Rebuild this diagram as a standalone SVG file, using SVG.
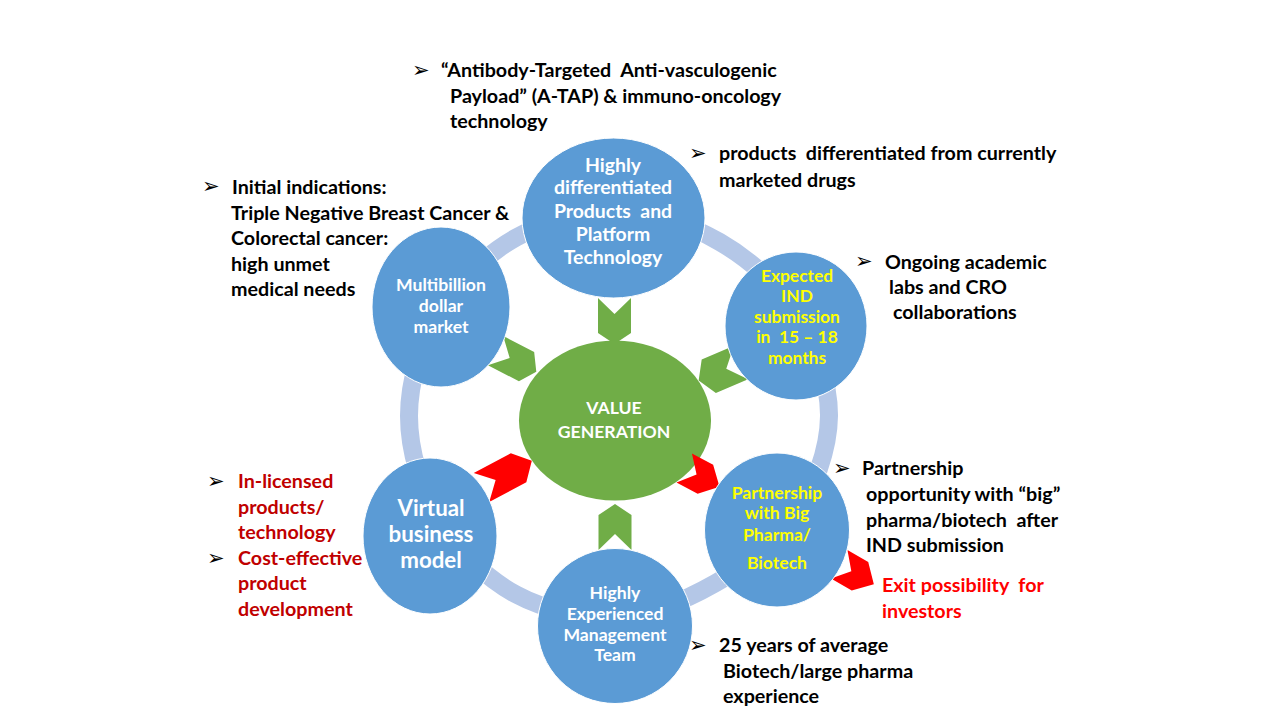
<svg xmlns="http://www.w3.org/2000/svg" width="1280" height="720" viewBox="0 0 1280 720">
<defs>
<style>
text{white-space:pre}
.t{font-family:Lato,"Open Sans","Liberation Sans",sans-serif;font-weight:bold;font-size:19.7px;fill:#000;white-space:pre}
.r{fill:#c00000}
.rr{fill:#ff0000}
.b{font-family:"DejaVu Sans",sans-serif;font-size:21px;fill:#000}
.c{font-family:Lato,"Open Sans","Liberation Sans",sans-serif;font-weight:bold;text-anchor:middle;font-size:17.6px;fill:#fff;white-space:pre}
.y{fill:#ffff00}
.node{fill:#5b9bd5;stroke:#ffffff;stroke-width:1}
.gc{fill:#70ad47}
.rc{fill:#ff0000}
</style>
<path id="chev" d="M0,-16.5 L35,-16.5 L46,0 L35,16.5 L0,16.5 L16,0 Z"/>
<path id="chevL" d="M0,-16.5 L42,-16.5 L57,0 L42,16.5 L0,16.5 L16,0 Z"/>
<path id="chevS" d="M0,-16.5 L24,-16.5 L40,0 L24,16.5 L0,16.5 L14,0 Z"/>
</defs>
<rect width="1280" height="720" fill="#ffffff"/>

<g id="connectors">
<path id="ring" fill="none" stroke="#b4c7e7" stroke-width="18" d="M619,211 C652.9,211.7 689.9,224.8 719.5,241.9 C749.1,259 778.25,284.5 796.5,313.5 C814.75,342.5 829.3,382 829,416 C828.7,450 813.7,489.65 794.8,517.5 C775.9,545.35 744.8,566.5 715.5,583.1 C686.2,599.7 652.25,615.1 619,617 C585.75,618.9 546,610.6 516,594.4 C486,578.2 456.7,549.7 438.9,520 C421.1,490.3 409,450.7 409,416 C409,381.3 421.1,341.7 438.9,312 C456.7,282.3 486,254.4 516,237.6 C546,220.8 585.1,210.3 619,211 Z"/>
<use href="#chev" class="gc" transform="translate(614.5,298) rotate(90)"/>
<use href="#chev" class="gc" transform="translate(615,550) rotate(-90)"/>
<use href="#chev" class="gc" transform="translate(495.5,350.5) rotate(27.5)"/>
<use href="#chev" class="gc" transform="translate(741,362.5) rotate(157) scale(1,1.1)"/>
</g>

<g id="value-generation">
<ellipse cx="615" cy="420.5" rx="96" ry="80" fill="#70ad47"/>
<text class="c" style="font-size:17.6px"><tspan x="614" y="414">VALUE</tspan><tspan x="614" y="438">GENERATION</tspan></text>
</g>

<g id="red-arrows">
<use href="#chevL" class="rc" transform="translate(481.5,487.5) rotate(-28)"/>
<use href="#chevS" class="rc" transform="translate(684.2,468) rotate(28)"/>
<use href="#chevS" class="rc" transform="translate(839.2,564.2) rotate(30)"/>
</g>

<g id="node-top">
<ellipse class="node" cx="613.5" cy="218" rx="91.5" ry="80"/>
<text class="c" style="font-size:19.4px"><tspan x="613" y="172">Highly</tspan><tspan x="613" y="194">differentiated</tspan><tspan x="613" y="218">Products  and</tspan><tspan x="613" y="241">Platform</tspan><tspan x="613" y="264">Technology</tspan></text>
</g>

<g id="node-market">
<ellipse class="node" cx="441" cy="307" rx="69" ry="80"/>
<text class="c"><tspan x="441" y="291">Multibillion</tspan><tspan x="441" y="312">dollar</tspan><tspan x="441" y="333">market</tspan></text>
</g>

<g id="node-ind">
<ellipse class="node" cx="796" cy="326" rx="71" ry="74"/>
<text class="c y" style="font-size:17.4px"><tspan x="797" y="282">Expected</tspan><tspan x="797" y="302">IND</tspan><tspan x="797" y="323">submission</tspan><tspan x="797" y="343">in  15 – 18</tspan><tspan x="797" y="364">months</tspan></text>
</g>

<g id="node-virtual">
<ellipse class="node" cx="430" cy="536" rx="67" ry="78"/>
<text class="c r" style="font-size:22.3px"><tspan x="431" y="516">Virtual</tspan><tspan x="431" y="542">business</tspan><tspan x="431" y="568">model</tspan></text>
</g>

<g id="node-partnership">
<ellipse class="node" cx="777" cy="530" rx="72.5" ry="77"/>
<text class="c y"><tspan x="777" y="499">Partnership</tspan><tspan x="777" y="519">with Big</tspan><tspan x="777" y="541">Pharma/</tspan><tspan x="777" y="569">Biotech</tspan></text>
</g>

<g id="node-team">
<ellipse class="node" cx="615" cy="626" rx="77.5" ry="77.5"/>
<text class="c"><tspan x="615" y="599">Highly</tspan><tspan x="615" y="620">Experienced</tspan><tspan x="615" y="641">Management</tspan><tspan x="615" y="661">Team</tspan></text>
</g>

<g id="note-technology">
<text class="b" x="412" y="77">➢</text>
<text class="t"><tspan x="441" y="77">“Antibody-Targeted  Anti-vasculogenic</tspan><tspan x="450" y="103">Payload” (A-TAP) &amp; immuno-oncology</tspan><tspan x="450" y="128">technology</tspan></text>
</g>

<g id="note-products">
<text class="b" x="689" y="160">➢</text>
<text class="t"><tspan x="719" y="160">products  differentiated from currently</tspan><tspan x="719" y="187">marketed drugs</tspan></text>
</g>

<g id="note-indications">
<text class="b" x="202" y="193">➢</text>
<text class="t"><tspan x="232" y="194">Initial indications:</tspan><tspan x="231" y="220">Triple Negative Breast Cancer &amp;</tspan><tspan x="231" y="245">Colorectal cancer:</tspan><tspan x="231" y="271">high unmet</tspan><tspan x="231" y="296">medical needs</tspan></text>
</g>

<g id="note-labs">
<text class="b" x="855" y="268">➢</text>
<text class="t"><tspan x="885" y="269">Ongoing academic</tspan><tspan x="889" y="294">labs and CRO</tspan><tspan x="893" y="319">collaborations</tspan></text>
</g>

<g id="note-partnership">
<text class="b" x="833" y="475">➢</text>
<text class="t"><tspan x="862" y="475">Partnership</tspan><tspan x="866" y="501">opportunity with “big”</tspan><tspan x="866" y="527">pharma/biotech  after</tspan><tspan x="866" y="552">IND submission</tspan></text>
</g>

<g id="note-exit">
<text class="t rr"><tspan x="882" y="592">Exit possibility  for</tspan><tspan x="882" y="618">investors</tspan></text>
</g>

<g id="note-virtual">
<text class="b r" x="207" y="488">➢</text>
<text class="b r" x="207" y="565">➢</text>
<text class="t r"><tspan x="238" y="488">In-licensed</tspan><tspan x="238" y="514">products/</tspan><tspan x="238" y="539">technology</tspan><tspan x="238" y="565">Cost-effective</tspan><tspan x="238" y="590">product</tspan><tspan x="238" y="616">development</tspan></text>
</g>

<g id="note-team">
<text class="b" x="689" y="652">➢</text>
<text class="t"><tspan x="719" y="652">25 years of average</tspan><tspan x="723" y="678">Biotech/large pharma</tspan><tspan x="723" y="703">experience</tspan></text>
</g>
</svg>
